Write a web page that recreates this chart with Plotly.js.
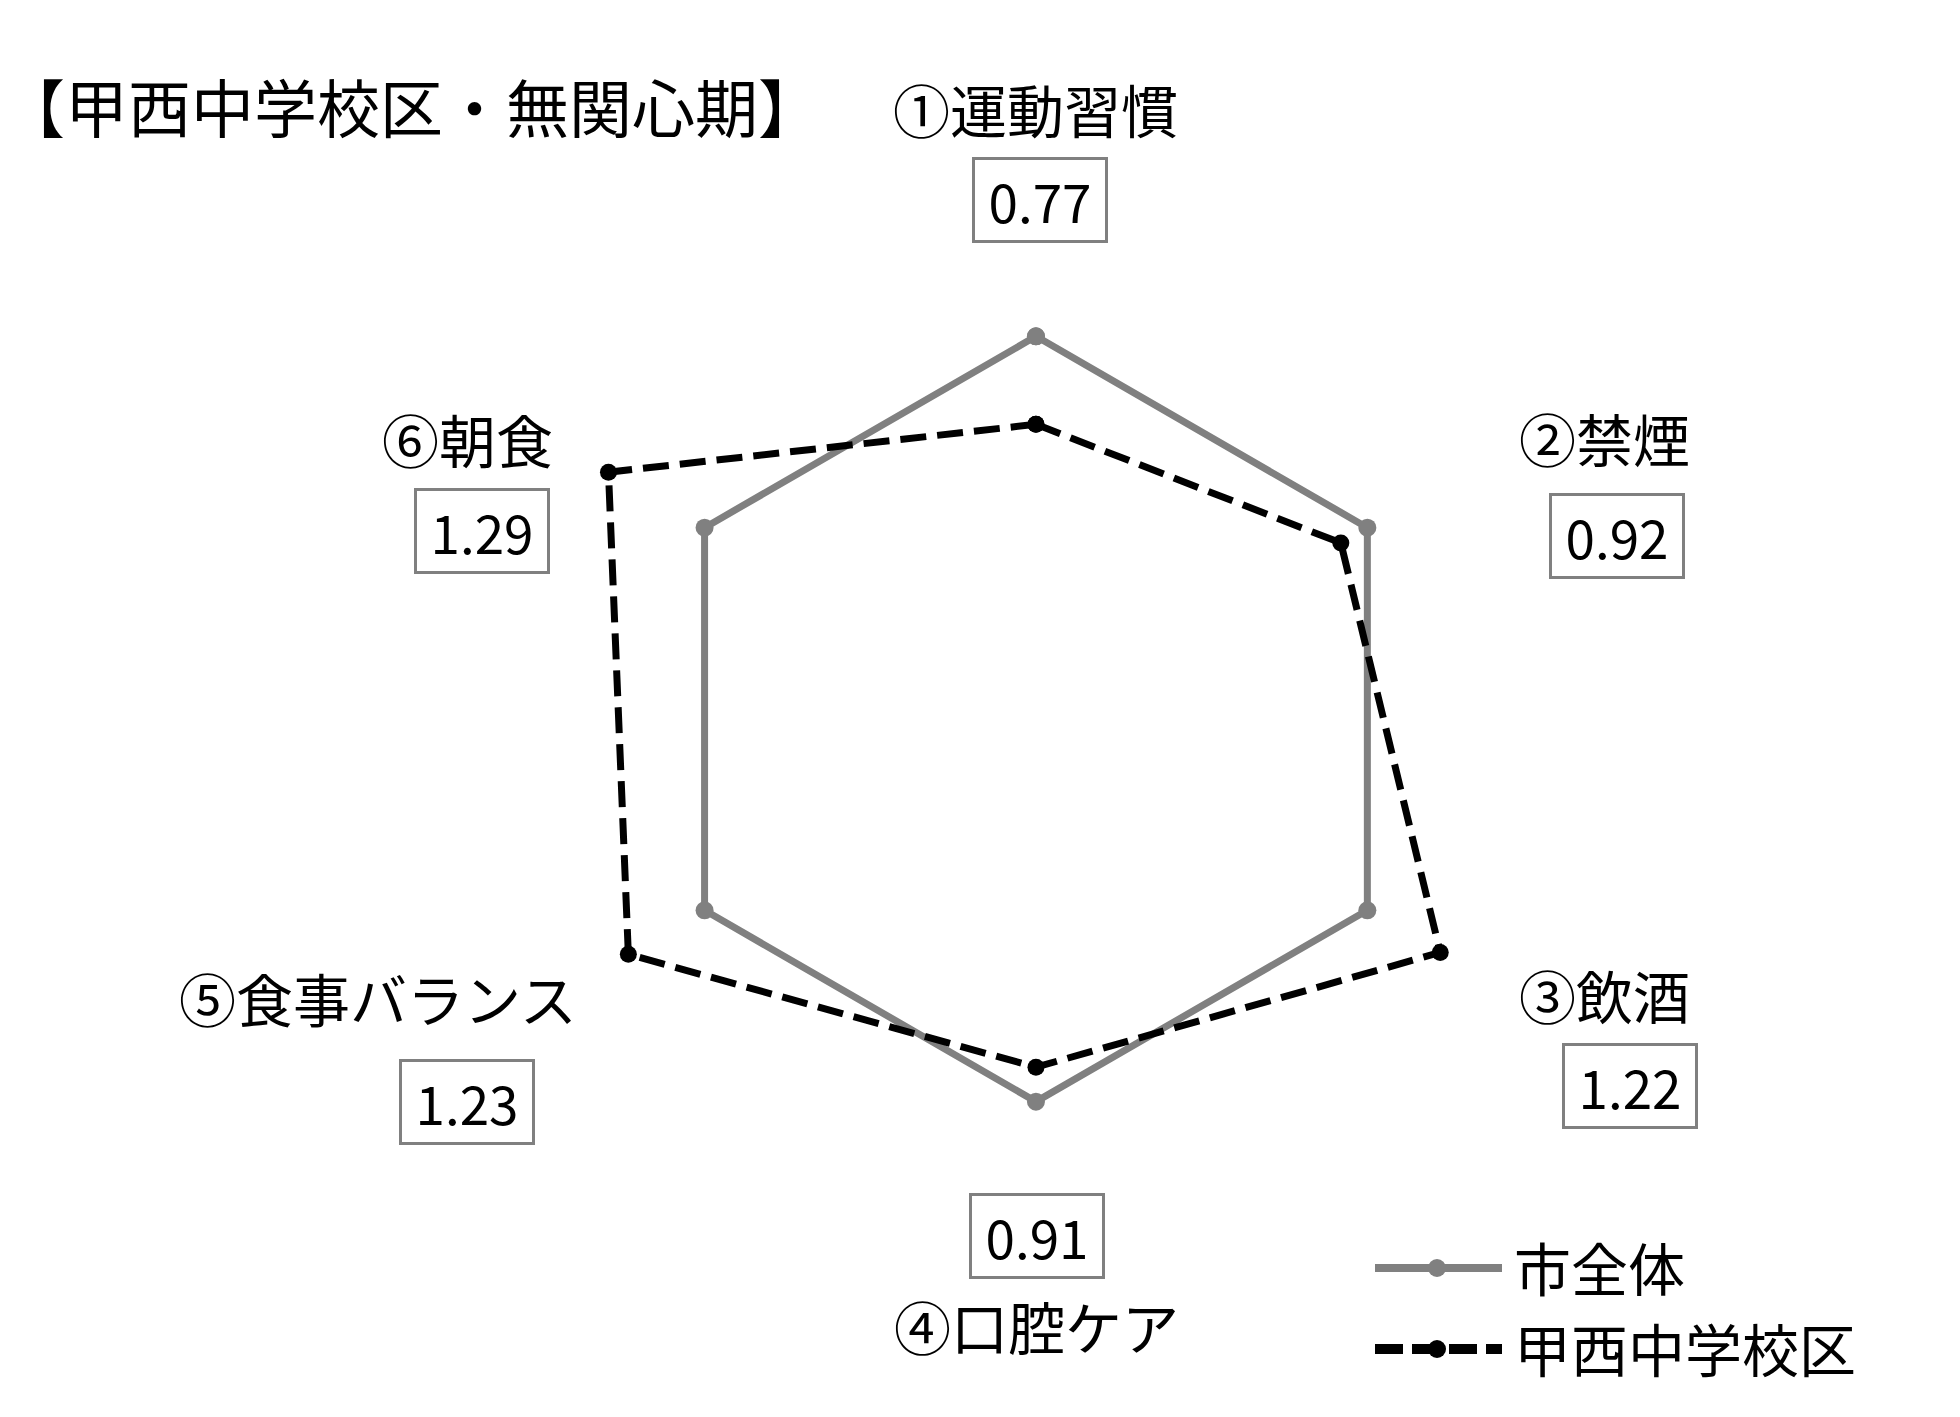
<!DOCTYPE html>
<html>
<head>
<meta charset="utf-8">
<script src="https://cdn.plot.ly/plotly-3.0.1.min.js"></script>
<style>
  html, body { margin: 0; padding: 0; background: #fff; }
  #chart { width: 1960px; height: 1417px; }
</style>
</head>
<body>
<div id="chart"></div>
<script>
// 無関心期レーダーチャート（市全体 = 1.00 基準）
const chartTitle = '【甲西中学校区・無関心期】';
const categories = ['①運動習慣', '②禁煙', '③飲酒', '④口腔ケア', '⑤食事バランス', '⑥朝食'];
const cityValues = [1.00, 1.00, 1.00, 1.00, 1.00, 1.00];
const districtValues = [0.77, 0.92, 1.22, 0.91, 1.23, 1.29];
const seriesNames = ['市全体', '甲西中学校区'];

const W = 1960, H = 1417;
const FONT = '"Noto Sans CJK JP", "Noto Sans", sans-serif';
const px = x => x / W;
const py = y => 1 - y / H;

// ラベルと数値ボックスの配置（ピクセル）
const labelPos = [[1035, 108], [1604, 437], [1604, 994], [1036, 1325], [378, 997], [467, 438]];
const boxPos   = [[1040, 200], [1617, 536], [1630, 1086], [1037, 1236], [467, 1102], [482, 531]];

const close = arr => arr.concat(arr.slice(0, 1));

const traces = [
  {
    type: 'scatterpolar', mode: 'lines+markers', name: seriesNames[0],
    r: close(cityValues), theta: close(categories),
    line: { color: '#808080', width: 7 },
    marker: { color: '#808080', size: 18 },
    hoverinfo: 'skip'
  },
  {
    type: 'scatterpolar', mode: 'lines+markers', name: seriesNames[1],
    r: close(districtValues), theta: close(categories),
    line: { color: '#000000', width: 7, dash: '26px,11px' },
    marker: { color: '#000000', size: 17 },
    hoverinfo: 'skip'
  }
];

const annotations = [{
  text: chartTitle, xref: 'paper', yref: 'paper',
  x: 0, y: py(105), xanchor: 'left', yanchor: 'middle', showarrow: false,
  font: { family: FONT, size: 63, color: '#000' }
}];

categories.forEach((c, i) => {
  annotations.push({
    text: c, xref: 'paper', yref: 'paper',
    x: px(labelPos[i][0]), y: py(labelPos[i][1]), xanchor: 'center', yanchor: 'middle',
    showarrow: false, font: { family: FONT, size: 57, color: '#000' }
  });
  annotations.push({
    text: districtValues[i].toFixed(2), xref: 'paper', yref: 'paper',
    x: px(boxPos[i][0]), y: py(boxPos[i][1]), xanchor: 'center', yanchor: 'middle',
    showarrow: false, width: 122, height: 72, borderpad: 4,
    bordercolor: '#808080', borderwidth: 3, bgcolor: '#fff',
    font: { family: FONT, size: 53, color: '#000' }
  });
});

// 凡例（手描き）
const legendRows = [
  { y: 1268, color: '#808080', dash: 'solid', width: 8, msize: 9 },
  { y: 1349, color: '#000000', dash: '28px,9px', width: 10, msize: 9 }
];
const shapes = [];
legendRows.forEach((row, i) => {
  shapes.push({
    type: 'line', xref: 'paper', yref: 'paper',
    x0: px(1375), x1: px(1502), y0: py(row.y), y1: py(row.y),
    line: { color: row.color, width: row.width, dash: row.dash }
  });
  shapes.push({
    type: 'circle', xref: 'paper', yref: 'paper', fillcolor: row.color,
    x0: px(1437 - row.msize), x1: px(1437 + row.msize),
    y0: py(row.y + row.msize), y1: py(row.y - row.msize),
    line: { color: row.color, width: 0 }
  });
  annotations.push({
    text: seriesNames[i], xref: 'paper', yref: 'paper',
    x: px(1512), y: py(row.y - 2), xanchor: 'left', yanchor: 'middle', showarrow: false,
    font: { family: FONT, size: 57, color: '#000' }
  });
});

const layout = {
  width: W, height: H,
  margin: { l: 0, r: 0, t: 0, b: 0 },
  paper_bgcolor: '#fff',
  showlegend: false,
  polar: {
    domain: { x: [0.2357, 0.8214], y: [0.0875, 0.8977] },
    bgcolor: 'rgba(0,0,0,0)',
    radialaxis: { visible: false, range: [0, 1.5] },
    angularaxis: {
      visible: false, rotation: 90, direction: 'clockwise',
      showgrid: false, showline: false, ticks: ''
    }
  },
  annotations, shapes
};

Plotly.newPlot('chart', traces, layout, { displayModeBar: false, staticPlot: true });
</script>
</body>
</html>
